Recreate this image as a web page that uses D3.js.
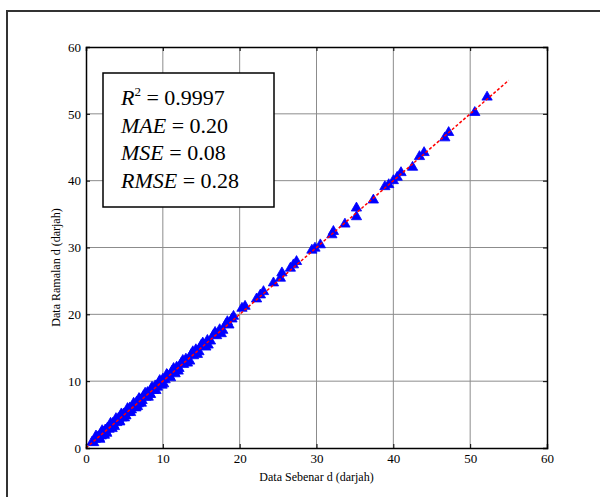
<!DOCTYPE html>
<html>
<head>
<meta charset="utf-8">
<script src="https://cdn.jsdelivr.net/npm/d3@7"></script>
<style>
  body { margin: 0; background: #fff; }
  svg { display: block; }
</style>
</head>
<body>
<svg width="600" height="497"></svg>
<script>
const actual = [
  0.8, 1.0, 1.2, 1.5, 1.7, 1.9, 2.0, 2.2, 2.3, 2.5, 2.6, 2.8, 3.0, 3.1, 3.3,
  3.5, 3.6, 3.8, 4.0, 4.2, 4.3, 4.5, 4.7, 4.9, 5.1, 5.3, 5.5, 5.7, 5.9, 6.1,
  6.3, 6.6, 6.8, 7.0, 7.3, 7.5, 7.8, 8.0, 8.3, 8.5, 8.8, 9.0, 9.3, 9.5, 9.8,
  10.0, 10.3, 10.6, 10.9, 11.2, 11.5, 11.8, 12.1, 12.4, 12.7, 13.0, 13.3, 13.7,
  14.0, 14.3, 14.7, 15.0, 15.4, 15.8, 16.2, 16.6, 17.0, 17.4, 17.8, 18.2, 18.6,
  19.0, 19.2, 20.3, 20.7, 22.2, 22.7, 23.1, 24.4, 25.3, 25.5, 26.6, 27.0, 27.4,
  29.4, 29.8, 30.5, 32.0, 32.2, 33.7, 35.2, 35.2, 37.4, 38.9, 39.4, 40.0, 40.5,
  41.0, 42.5, 43.4, 44.0, 46.7, 47.2, 50.6, 52.2,
  1.3, 1.8, 2.1, 2.7, 3.2, 3.4, 3.9, 4.4, 4.6, 5.0, 5.4, 5.8, 6.2, 6.5, 6.9,
  7.2, 7.7, 8.1, 8.6, 9.1, 9.6, 10.1, 10.5, 11.0, 11.4, 12.0, 12.6, 13.2, 13.9,
  14.5, 15.2, 15.9, 16.8, 17.6, 18.4,
  2.4, 3.7, 5.2, 6.7, 8.4, 9.9, 11.6, 13.5, 15.6
];
const predicted = [
  0.9, 0.8, 1.3, 1.6, 1.5, 2.1, 1.8, 2.4, 2.1, 2.7, 2.4, 3.0, 2.8, 3.3, 3.1,
  3.7, 3.4, 4.0, 3.8, 4.4, 4.1, 4.8, 4.5, 5.1, 4.9, 5.5, 5.3, 6.0, 5.7, 6.3,
  6.1, 6.9, 6.6, 7.3, 7.1, 7.8, 7.6, 8.3, 8.1, 8.8, 8.6, 9.3, 9.1, 9.8, 9.7,
  10.3, 10.2, 10.9, 10.7, 11.5, 11.3, 12.1, 11.9, 12.7, 12.5, 13.3, 13.1, 14.0,
  13.8, 14.7, 14.4, 15.4, 15.2, 16.1, 16.0, 16.9, 16.8, 17.7, 17.6, 18.5, 18.4,
  19.3, 19.7, 20.9, 21.2, 22.3, 22.9, 23.4, 24.7, 25.4, 26.2, 26.9, 27.4, 27.9,
  29.6, 29.9, 30.4, 31.9, 32.4, 33.5, 34.6, 35.9, 37.1, 39.1, 39.4, 40.0, 40.5,
  41.2, 42.0, 43.6, 44.2, 46.4, 47.2, 50.2, 52.5,
  1.8, 1.3, 2.6, 2.2, 3.7, 2.9, 4.4, 3.9, 5.1, 4.5, 5.9, 5.3, 6.7, 6.0, 7.4,
  6.7, 8.2, 7.6, 9.1, 8.6, 10.1, 9.6, 11.0, 10.5, 11.9, 11.5, 13.1, 12.7, 14.4,
  14.0, 15.7, 15.4, 17.3, 17.1, 18.9,
  1.9, 3.2, 4.8, 6.2, 8.0, 9.4, 11.1, 13.0, 15.1
];
const fitLine = [0, 55];
const ticks = [0, 10, 20, 30, 40, 50, 60];
const stats = [
  { name: "R", sup: "2", value: "0.9997" },
  { name: "MAE", sup: "", value: "0.20" },
  { name: "MSE", sup: "", value: "0.08" },
  { name: "RMSE", sup: "", value: "0.28" }
];

const serif = "'Liberation Serif', 'Times New Roman', Times, serif";

function initGraph() {
  const svg = d3.select("svg");

  // Outer figure frame (only top and left edges fall inside the picture).
  svg.append("path")
    .attr("d", "M7,497V11H600")
    .attr("fill", "none")
    .attr("stroke", "#333")
    .attr("stroke-width", 2);

  const margin = { top: 47, left: 86 };
  const width = 461;
  const height = 401;

  const content = svg.append("g")
    .attr("transform", "translate(" + margin.left + "," + margin.top + ")");

  const xScale = d3.scaleLinear().domain([0, 60]).range([0, width]);
  const yScale = d3.scaleLinear().domain([0, 60]).range([height, 0]);

  return { svg, content, margin, width, height, xScale, yScale };
}

function drawGrid(graph) {
  const { content, xScale, yScale, width, height } = graph;

  content.append("g").selectAll("line")
    .data(ticks.slice(1, -1))
    .enter().append("line")
    .attr("x1", d => xScale(d)).attr("x2", d => xScale(d))
    .attr("y1", 0).attr("y2", height)
    .attr("stroke", "#8c8c8c").attr("stroke-width", 1);

  content.append("g").selectAll("line")
    .data(ticks.slice(1, -1))
    .enter().append("line")
    .attr("y1", d => yScale(d)).attr("y2", d => yScale(d))
    .attr("x1", 0).attr("x2", width)
    .attr("stroke", "#8c8c8c").attr("stroke-width", 1);
}

function drawAxes(graph) {
  const { content, xScale, yScale, width, height } = graph;

  // Ticks point inward, on all four sides (box on).
  const xAxis = d3.axisBottom(xScale).tickValues(ticks).tickSize(-4).tickPadding(6);
  const yAxis = d3.axisLeft(yScale).tickValues(ticks).tickSize(-4).tickPadding(5);

  content.append("g")
    .attr("transform", "translate(0," + height + ")")
    .call(xAxis);
  content.append("g").call(yAxis);

  content.append("g")
    .call(d3.axisTop(xScale).tickValues(ticks).tickSize(-4).tickFormat(""));
  content.append("g")
    .attr("transform", "translate(" + width + ",0)")
    .call(d3.axisRight(yScale).tickValues(ticks).tickSize(-4).tickFormat(""));

  content.selectAll(".domain").attr("stroke", "#000").attr("stroke-width", 1.5);
  content.selectAll(".tick line").attr("stroke", "#000");
  content.selectAll("g").attr("font-family", serif).attr("font-size", 13);
  content.selectAll(".tick text").attr("fill", "#000");

  graph.svg.append("text")
    .attr("x", graph.margin.left + width / 2)
    .attr("y", 481)
    .attr("text-anchor", "middle")
    .attr("font-family", serif)
    .attr("font-size", 12)
    .text("Data Sebenar d (darjah)");

  graph.svg.append("text")
    .attr("transform", "translate(60," + (graph.margin.top + height / 2 + 20) + ") rotate(-90)")
    .attr("text-anchor", "middle")
    .attr("font-family", serif)
    .attr("font-size", 12)
    .text("Data Ramalan d (darjah)");
}

function drawPoints(graph) {
  const { content, xScale, yScale } = graph;
  const tri = d3.symbol().type(d3.symbolTriangle).size(46);

  content.append("g").selectAll("path")
    .data(actual.map((d, i) => [d, predicted[i]]))
    .enter().append("path")
    .attr("d", tri)
    .attr("transform", d => "translate(" + xScale(d[0]) + "," + yScale(d[1]) + ")")
    .attr("fill", "#0000ff")
    .attr("stroke", "#0000ff")
    .attr("stroke-width", 0.8);

  // Ideal y = x line.
  content.append("line")
    .attr("x1", xScale(fitLine[0])).attr("y1", yScale(fitLine[0]))
    .attr("x2", xScale(fitLine[1])).attr("y2", yScale(fitLine[1]))
    .attr("stroke", "#ff0000")
    .attr("stroke-width", 1.5)
    .attr("stroke-dasharray", "3,2");
}

function drawStatsBox(graph) {
  const box = graph.svg.append("g")
    .attr("font-family", serif);

  box.append("rect")
    .attr("x", 103).attr("y", 73)
    .attr("width", 171).attr("height", 134)
    .attr("fill", "#fff")
    .attr("stroke", "#000")
    .attr("stroke-width", 1.5);

  const rows = box.selectAll("text")
    .data(stats)
    .enter().append("text")
    .attr("x", 121)
    .attr("y", (d, i) => 105 + i * 27.7)
    .attr("font-size", 22);

  rows.append("tspan").attr("font-style", "italic").text(d => d.name);
  rows.filter(d => d.sup).append("tspan")
    .attr("dy", -9).attr("font-size", 13).text(d => d.sup);
  rows.append("tspan")
    .attr("dy", d => d.sup ? 9 : 0)
    .text(d => " = " + d.value);
}

window.addEventListener("load", function() {
  const graph = initGraph();
  drawGrid(graph);
  drawPoints(graph);
  drawAxes(graph);
  drawStatsBox(graph);
});
</script>
</body>
</html>
